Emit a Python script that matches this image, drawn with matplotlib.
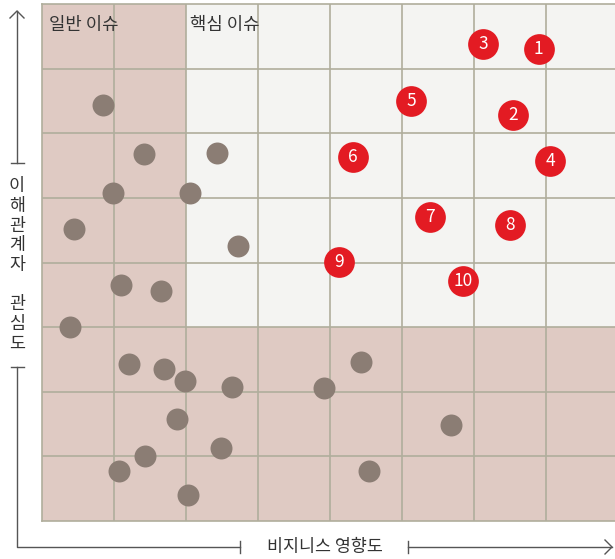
import matplotlib.pyplot as plt
from matplotlib.lines import Line2D

plt.rcParams['font.family'] = ['Noto Sans CJK KR', 'DejaVu Sans']

# key issues (red, numbered)
key_labels = ['1', '2', '3', '4', '5', '6', '7', '8', '9', '10']
key_x = [6.90, 6.54, 6.13, 7.06, 5.13, 4.32, 5.39, 6.50, 4.13, 5.85]
key_y = [7.31, 6.28, 7.38, 5.57, 6.50, 5.63, 4.71, 4.58, 4.01, 3.72]

# general issues (grey)
gen_x = [0.85, 1.42, 2.43, 0.99, 2.06, 0.44, 2.72, 1.10, 1.65, 0.39, 1.21, 1.69,
         1.99, 2.64, 3.92, 4.43, 1.88, 2.49, 5.68, 1.43, 1.07, 4.54, 2.03]
gen_y = [6.44, 5.68, 5.70, 5.08, 5.08, 4.52, 4.26, 3.65, 3.56, 3.00, 2.43, 2.35,
         2.17, 2.07, 2.06, 2.46, 1.58, 1.13, 1.49, 1.01, 0.77, 0.77, 0.40]

W, H = 615, 559
fig = plt.figure(figsize=(W / 100, H / 100), dpi=100)

def fx(x):
    return x / W

def fy(y):
    return 1 - y / H

ax = fig.add_axes([fx(42), fy(521), fx(615 - 42), (521 - 4) / H])
ax.set_xlim(0, (615 - 42) / 72)
ax.set_ylim(0, 8)

pink = '#dfcac3'
grid_c = '#b0ae9c'
ax.set_facecolor('#f4f4f2')
ax.axvspan(0, 2, color=pink, zorder=0, lw=0)
ax.axhspan(0, 3, color=pink, zorder=0, lw=0)
for i in range(1, 9):
    ax.axvline(i, color=grid_c, lw=1.2, zorder=1)
for j in range(1, 8):
    ax.axhline(j, color=grid_c, lw=1.2, zorder=1)
for s in ax.spines.values():
    s.set_color(grid_c)
    s.set_linewidth(1.2)
ax.spines['right'].set_visible(False)
ax.set_xticks([])
ax.set_yticks([])

ax.scatter(gen_x, gen_y, s=250, color='#8b7d74', zorder=3, lw=0)
ax.scatter(key_x, key_y, s=490, color='#e31b23', zorder=4, lw=0)
for lab, x, y in zip(key_labels, key_x, key_y):
    ax.text(x, y, lab, color='white', fontsize=12.5, ha='center', va='center',
            zorder=5, fontweight='medium')

ax.text(0.1, 7.82, '일반 이슈', fontsize=12.8, color='#333333', va='top', ha='left')
ax.text(2.05, 7.82, '핵심 이슈', fontsize=12.8, color='#333333', va='top', ha='left')

# axis arrows and labels
lc = '#555555'
def line(xs, ys):
    fig.add_artist(Line2D([fx(v) for v in xs], [fy(v) for v in ys],
                          color=lc, lw=1.0))

line([17, 17], [11, 163])
line([11, 24], [163, 163])
line([11, 24], [367, 367])
line([17, 17, 240], [367, 547, 547])
line([240, 240], [541, 553])
line([408, 408], [541, 553])
line([408, 612], [547, 547])
line([10, 17, 24], [18, 11, 18])
line([605, 612, 605], [540, 547, 554])

fig.text(fx(17), fy(265), '\n'.join('이해관계자 관심도'), fontsize=12.5,
         color='#333333', ha='center', va='center', linespacing=1.12)
fig.text(fx(325), fy(547), '비지니스 영향도', fontsize=12.5, color='#333333',
         ha='center', va='center')

fig.savefig('out.png', dpi=100)
